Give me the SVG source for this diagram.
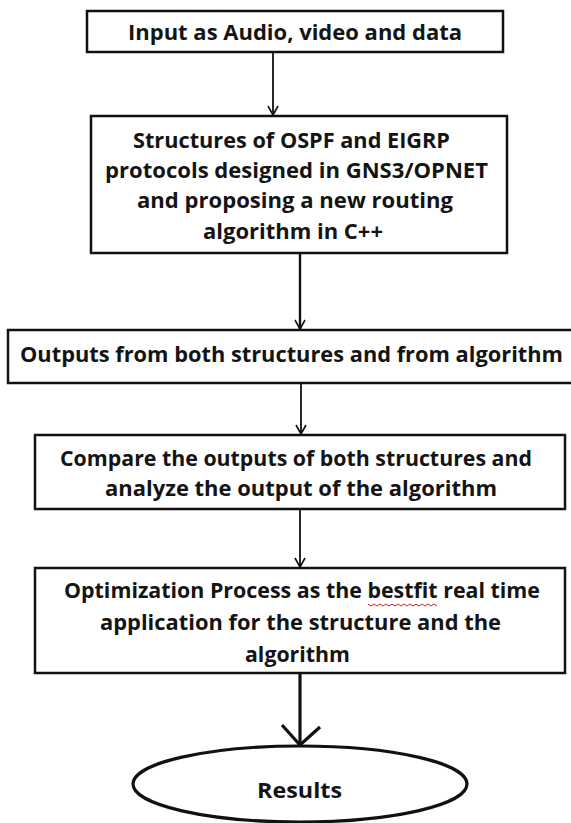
<svg xmlns="http://www.w3.org/2000/svg" width="571" height="823" viewBox="0 0 571 823">
  <style>
    .box { fill: #ffffff; stroke: #111111; stroke-width: 2.5; }
    .lbl { font-family: "Open Sans", "Liberation Sans", sans-serif; font-weight: bold; font-size: 21px; fill: #141414; text-anchor: start; }
    .wire { fill: none; stroke: #111111; stroke-width: 1.8; }
    .head { fill: none; stroke: #111111; stroke-width: 1.6; }
    .thick { fill: none; stroke: #111111; stroke-width: 3.2; }
  </style>
  <rect x="0" y="0" width="571" height="823" fill="#ffffff"/>

  <!-- connectors -->
  <g id="connectors">
    <line class="wire" x1="273" y1="52" x2="273" y2="115"/>
    <polyline class="head" points="268,106 273,115 278,106"/>
    <line class="wire" x1="300" y1="250" x2="300" y2="329" style="stroke-width:2.4"/>
    <polyline class="head" points="295,320 300,329 305,320"/>
    <line class="wire" x1="301" y1="383" x2="301" y2="434"/>
    <polyline class="head" points="296,425 301,434 306,425"/>
    <line class="wire" x1="300" y1="509" x2="300" y2="567"/>
    <polyline class="head" points="295,558 300,567 305,558"/>
    <line class="thick" x1="300" y1="673" x2="300" y2="745"/>
    <polyline class="thick" points="282,725 300,745 320,727"/>
  </g>

  <g id="input">
    <rect class="box" x="87" y="11" width="416" height="41"/>
    <text class="lbl" x="128" y="40" textLength="334" lengthAdjust="spacingAndGlyphs">Input as Audio, video and data</text>
  </g>

  <g id="structures">
    <rect class="box" x="91" y="116" width="416" height="137"/>
    <text class="lbl" x="133" y="148" textLength="317" lengthAdjust="spacingAndGlyphs">Structures of OSPF and EIGRP</text>
    <text class="lbl" x="105" y="178" textLength="383" lengthAdjust="spacingAndGlyphs">protocols designed in GNS3/OPNET</text>
    <text class="lbl" x="137" y="208" textLength="316" lengthAdjust="spacingAndGlyphs">and proposing a new routing</text>
    <text class="lbl" x="203" y="239" textLength="180" lengthAdjust="spacingAndGlyphs">algorithm in C++</text>
  </g>

  <g id="outputs">
    <rect class="box" x="8" y="330" width="565" height="53"/>
    <text class="lbl" x="20" y="362" textLength="543" lengthAdjust="spacingAndGlyphs">Outputs from both structures and from algorithm</text>
  </g>

  <g id="compare">
    <rect class="box" x="35" y="435" width="530" height="74"/>
    <text class="lbl" x="60" y="466" textLength="472" lengthAdjust="spacingAndGlyphs">Compare the outputs of both structures and</text>
    <text class="lbl" x="105" y="496" textLength="392" lengthAdjust="spacingAndGlyphs">analyze the output of the algorithm</text>
  </g>

  <g id="optimization">
    <rect class="box" x="35" y="568" width="530" height="105"/>
    <text class="lbl" x="64" y="598" textLength="476" lengthAdjust="spacingAndGlyphs">Optimization Process as the bestfit real time</text>
    <!-- spell-check squiggle under "bestfit" -->
    <polyline fill="none" stroke="#d02020" stroke-width="1" points="368,604 371,606 374,604 377,606 380,604 383,606 386,604 389,606 392,604 395,606 398,604 401,606 404,604 407,606 410,604 413,606 416,604 419,606 422,604 425,606 428,604 431,606 434,604 437,606"/>
    <text class="lbl" x="100" y="630" textLength="401" lengthAdjust="spacingAndGlyphs">application for the structure and the</text>
    <text class="lbl" x="245" y="662" textLength="105" lengthAdjust="spacingAndGlyphs">algorithm</text>
  </g>

  <g id="results">
    <ellipse cx="300" cy="784" rx="167" ry="38" fill="#ffffff" stroke="#111111" stroke-width="3.2"/>
    <text class="lbl" x="257" y="798" textLength="85" lengthAdjust="spacingAndGlyphs">Results</text>
  </g>
</svg>
